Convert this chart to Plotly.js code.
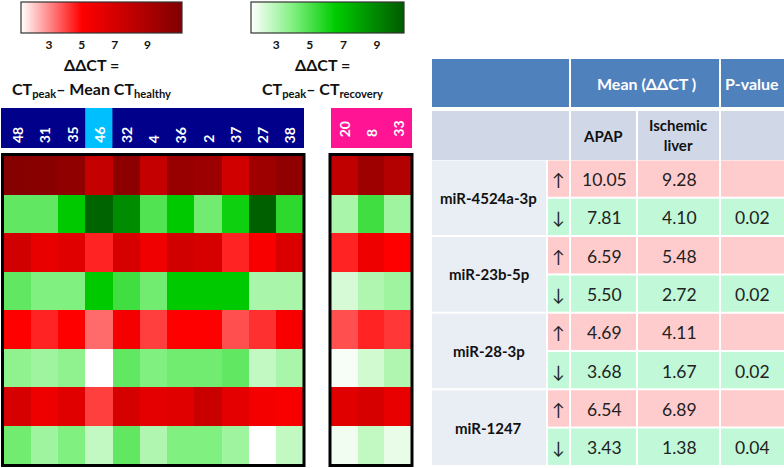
<!DOCTYPE html>
<html><head><meta charset="utf-8">
<script src="https://cdn.plot.ly/plotly-3.0.1.min.js"></script>
<style>html,body{margin:0;padding:0;background:#fff}#chart{width:784px;height:468px}</style>
</head><body><div id="chart"></div>
<script>
// ---------- DATA ----------
const patientsAPAP = ['48','31','35','46','32','4','36','2','37','27','38'];
const patientsIsch = ['20','8','33'];
const highlightPatient = '46';
const mirnas = ['miR-4524a-3p','miR-23b-5p','miR-28-3p','miR-1247'];
// per-patient ΔΔCT (rows = miRNA), upregulated at peak (red) / down in recovery (green)
const upAPAP = [
  [10.7,10.6,10.3,7.8,10.5,7.8,9.9,9.7,7.2,9.6,10.3],
  [7.2,6.1,6.5,4.5,6.9,5.7,7.2,6.9,4.5,5.3,6.7],
  [5.0,4.5,5.0,3.45,5.5,4.1,5.0,5.0,3.85,4.3,5.3],
  [6.9,5.8,6.5,4.1,7.0,6.3,6.5,7.6,6.3,5.5,5.3]
];
const downAPAP = [
  [4.6,4.6,6.6,10.2,8.8,4.9,6.6,4.3,6.2,10.4,5.6],
  [4.6,4.0,4.0,6.6,5.25,4.3,6.6,6.6,6.6,3.2,3.2],
  [3.7,3.4,3.7,1.5,4.6,4.0,4.3,4.3,4.6,2.7,3.2],
  [4.3,3.4,4.0,2.7,4.6,3.05,4.0,4.0,3.4,1.5,2.7]
];
const upIsch = [[8.0,9.6,8.6],[4.5,5.8,5.0],[3.85,4.5,4.2],[6.5,6.9,6.1]];
const downIsch = [[3.2,5.25,3.4],[2.3,3.05,3.4],[1.65,2.4,3.05],[1.8,2.7,1.95]];
const colorTicks = [3,5,7,9];
// table values
const meanAPAPUp   = [10.05, 6.59, 4.69, 6.54];
const meanAPAPDown = [7.81, 5.50, 3.68, 3.43];
const meanIschUp   = [9.28, 5.48, 4.11, 6.89];
const meanIschDown = [4.10, 2.72, 1.67, 1.38];
const pValues      = [0.02, 0.02, 0.02, 0.04];

// ---------- HELPERS ----------
const W = 784, H = 468;
const px = v => v / W;
const py = v => 1 - v / H;
const FONT = 'Lato, "Open Sans", sans-serif';

const rowLabels = [];
mirnas.forEach(m => { rowLabels.push(m + ' up'); rowLabels.push(m + ' down'); });
function buildZ(up, down, kind) {
  const z = [];
  up.forEach((r, i) => {
    z.push(kind === 'up' ? r : r.map(() => null));
    z.push(kind === 'down' ? down[i] : down[i].map(() => null));
  });
  return z;
}

const traces = [
  {type:'heatmap', x:patientsAPAP, y:rowLabels, z:buildZ(upAPAP, downAPAP, 'up'), coloraxis:'coloraxis', xaxis:'x', yaxis:'y', hoverinfo:'skip'},
  {type:'heatmap', x:patientsAPAP, y:rowLabels, z:buildZ(upAPAP, downAPAP, 'down'), coloraxis:'coloraxis2', xaxis:'x', yaxis:'y', hoverinfo:'skip'},
  {type:'heatmap', x:patientsIsch, y:rowLabels, z:buildZ(upIsch, downIsch, 'up'), coloraxis:'coloraxis', xaxis:'x2', yaxis:'y2', hoverinfo:'skip'},
  {type:'heatmap', x:patientsIsch, y:rowLabels, z:buildZ(upIsch, downIsch, 'down'), coloraxis:'coloraxis2', xaxis:'x2', yaxis:'y2', hoverinfo:'skip'}
];

const hmTop = 156, hmBot = 464;
const hiddenAxis = {showgrid:false, zeroline:false, showticklabels:false, ticks:'', showline:false, fixedrange:true};

const cbCommon = {orientation:'h', thickness:31, thicknessmode:'pixels', lenmode:'pixels', xpad:0, ypad:0,
  xanchor:'left', y:py(2), yanchor:'top', outlinecolor:'#333', outlinewidth:1.2, ticks:'',
  tickvals:colorTicks, ticklabelposition:'outside',
  tickfont:{family:FONT, size:12, color:'#111', weight:'bold'}};

const shapes = [];
const annotations = [];

// header bars
shapes.push({type:'rect', xref:'paper', yref:'paper', x0:px(1), x1:px(304), y0:py(148), y1:py(108), fillcolor:'#00008B', line:{width:0}, layer:'below'});
const hi = patientsAPAP.indexOf(highlightPatient);
shapes.push({type:'rect', xref:'x', yref:'paper', x0:hi-0.5, x1:hi+0.5, y0:py(148), y1:py(108), fillcolor:'#00BFFF', line:{width:0}, layer:'below'});
shapes.push({type:'rect', xref:'paper', yref:'paper', x0:px(331), x1:px(412), y0:py(148), y1:py(108), fillcolor:'#FF1493', line:{width:0}, layer:'below'});
patientsAPAP.forEach((p, i) => annotations.push({xref:'x', yref:'paper', x:i, y:py(145), yanchor:'bottom', xanchor:'center', text:'<b>'+p+'</b>', textangle:-90, showarrow:false, font:{family:FONT, size:14, color:'#fff'}}));
patientsIsch.forEach((p, i) => annotations.push({xref:'x2', yref:'paper', x:i, y:py(139), yanchor:'bottom', xanchor:'center', text:'<b>'+p+'</b>', textangle:-90, showarrow:false, font:{family:FONT, size:14, color:'#fff'}}));

// heatmap frames
shapes.push({type:'rect', xref:'paper', yref:'paper', x0:px(2.5), x1:px(304), y0:py(465.5), y1:py(154.5), line:{color:'#000', width:3}, fillcolor:'rgba(0,0,0,0)'});
shapes.push({type:'rect', xref:'paper', yref:'paper', x0:px(330), x1:px(412), y0:py(465.5), y1:py(154.5), line:{color:'#000', width:3}, fillcolor:'rgba(0,0,0,0)'});

// colour bar titles
const tFont = {family:FONT, size:16, color:'#111'};
function title(x, y, t) {
  annotations.push({xref:'paper', yref:'paper', x:px(x), y:py(y), xanchor:'center', yanchor:'middle', text:t, showarrow:false, font:tFont});
}
title(91, 65, '<b>ΔΔCT =</b>');
title(91, 90, '<b>CT<sub>peak</sub>– Mean CT<sub>healthy</sub></b>');
title(322, 65, '<b>ΔΔCT =</b>');
title(322, 90, '<b>CT<sub>peak</sub>– CT<sub>recovery</sub></b>');

// ---------- TABLE ----------
const BLUE = '#4F81BD', HEAD2 = '#D0D8E8', NAME = '#E9EDF4', PINK = '#FFCCCE', MINT = '#C0F8D8';
const colName = [432, 546], colArr = [548, 569], colA = [571, 636], colI = [638, 719], colP = [721, 784];
function rect(x0, x1, y0, y1, c) {
  shapes.push({type:'rect', xref:'paper', yref:'paper', x0:px(x0), x1:px(x1), y0:py(y1), y1:py(y0), fillcolor:c, line:{width:0}, layer:'below'});
}
function txt(x, y, t, size, color, bold) {
  annotations.push({xref:'paper', yref:'paper', x:px(x), y:py(y), text: bold ? '<b>'+t+'</b>' : t, showarrow:false, xanchor:'center', yanchor:'middle', font:{family:FONT, size:size, color:color}});
}
// header row 1
rect(432, 569, 59, 107, BLUE); rect(571, 719, 59, 107, BLUE); rect(721, 784, 59, 107, BLUE);
txt(646, 83, 'Mean (ΔΔCT )', 16, '#fff', true);
txt(752, 83, 'P-value', 16, '#fff', true);
// header row 2
rect(432, 569, 111, 160, HEAD2); rect(571, 636, 111, 160, HEAD2); rect(638, 719, 111, 160, HEAD2); rect(721, 784, 111, 160, HEAD2);
txt(603, 136, 'APAP', 15, '#111', true);
txt(678, 135, 'Ischemic<br>liver', 15, '#111', true);
// data rows
const rowH = 38.3, row0 = 160.5;
mirnas.forEach((m, i) => {
  const yU0 = row0 + rowH * (2 * i), yU1 = yU0 + rowH - 2;
  const yD0 = yU0 + rowH, yD1 = yD0 + rowH - 2;
  rect(colName[0], colName[1], yU0, yD1, NAME);
  txt((colName[0] + colName[1]) / 2, (yU0 + yD1) / 2, m, 15, '#111', true);
  [[yU0, yU1, PINK, '↑', meanAPAPUp[i], meanIschUp[i], ''], [yD0, yD1, MINT, '↓', meanAPAPDown[i], meanIschDown[i], pValues[i].toFixed(2)]].forEach(r => {
    const [a, b, c, arr, va, vi, pv] = r;
    rect(colArr[0], colArr[1], a, b, c); rect(colA[0], colA[1], a, b, c); rect(colI[0], colI[1], a, b, c); rect(colP[0], colP[1], a, b, c);
    const yc = (a + b) / 2 + 1;
    txt(558, yc, arr, 17, '#222', false);
    txt(604, yc, va.toFixed(2), 17.5, '#222', false);
    txt(679, yc, vi.toFixed(2), 17.5, '#222', false);
    if (pv) txt(752, yc, pv, 17.5, '#222', false);
  });
});

const layout = {
  width: W, height: H,
  margin: {l:0, r:0, t:0, b:0, autoexpand:false},
  paper_bgcolor:'#fff', plot_bgcolor:'rgba(0,0,0,0)',
  showlegend:false,
  font:{family:FONT},
  xaxis: Object.assign({}, hiddenAxis, {type:'category', domain:[px(3.5), px(303)], anchor:'y', range:[-0.5, patientsAPAP.length - 0.5]}),
  yaxis: Object.assign({}, hiddenAxis, {type:'category', domain:[py(hmBot), py(hmTop)], anchor:'x', autorange:'reversed'}),
  xaxis2: Object.assign({}, hiddenAxis, {type:'category', domain:[px(331), px(411)], anchor:'y2', range:[-0.5, patientsIsch.length - 0.5]}),
  yaxis2: Object.assign({}, hiddenAxis, {type:'category', domain:[py(hmBot), py(hmTop)], anchor:'x2', autorange:'reversed'}),
  coloraxis: {cmin:1.3, cmax:11.1, colorscale:[[0,'#FFFFFF'],[0.378,'#FF0000'],[1,'#7F0000']],
    colorbar: Object.assign({}, cbCommon, {x:px(21), len:161})},
  coloraxis2: {cmin:1.5, cmax:10.6, colorscale:[[0,'#FFFFFF'],[0.275,'#80F080'],[0.549,'#00CC00'],[1,'#005A00']],
    colorbar: Object.assign({}, cbCommon, {x:px(251), len:153})},
  shapes: shapes,
  annotations: annotations
};

Plotly.newPlot('chart', traces, layout, {staticPlot:true, displayModeBar:false});
</script>
</body></html>
